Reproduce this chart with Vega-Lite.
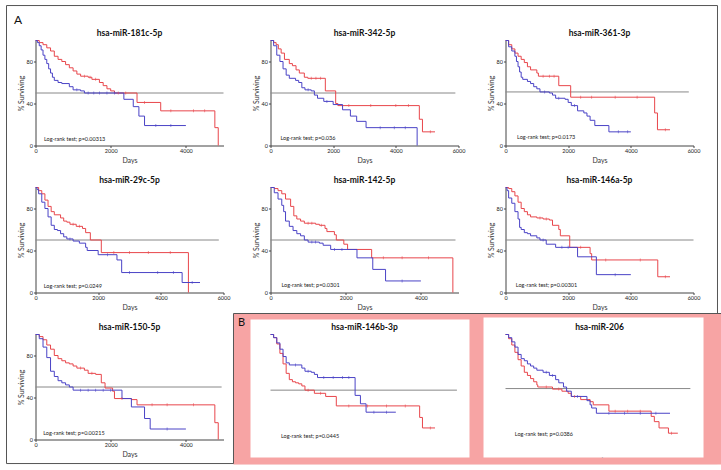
{
"$schema": "https://vega.github.io/schema/vega-lite/v6.json",
"autosize": {"type": "pad"},
"padding": {"left": 5.5, "top": 4.5, "right": 0, "bottom": 0},
"background": "white",
"datasets": {
"km": [
{"panel":"p1","group":"High","day":0,"surv":100},{"panel":"p1","group":"High","day":100,"surv":98},{"panel":"p1","group":"High","day":200,"surv":96},{"panel":"p1","group":"High","day":300,"surv":93},{"panel":"p1","group":"High","day":400,"surv":90},{"panel":"p1","group":"High","day":500,"surv":85},{"panel":"p1","group":"High","day":600,"surv":82},{"panel":"p1","group":"High","day":700,"surv":80},{"panel":"p1","group":"High","day":800,"surv":77},{"panel":"p1","group":"High","day":900,"surv":74},{"panel":"p1","group":"High","day":1000,"surv":71},{"panel":"p1","group":"High","day":1100,"surv":68},{"panel":"p1","group":"High","day":1200,"surv":66},{"panel":"p1","group":"High","day":1400,"surv":65},{"panel":"p1","group":"High","day":1500,"surv":63},{"panel":"p1","group":"High","day":1700,"surv":60},{"panel":"p1","group":"High","day":1800,"surv":57},{"panel":"p1","group":"High","day":1900,"surv":54},{"panel":"p1","group":"High","day":2000,"surv":52},{"panel":"p1","group":"High","day":2100,"surv":50},{"panel":"p1","group":"High","day":2700,"surv":41},{"panel":"p1","group":"High","day":3330,"surv":33},{"panel":"p1","group":"High","day":4770,"surv":17},{"panel":"p1","group":"High","day":4860,"surv":0},
{"panel":"p1","group":"Low","day":0,"surv":100},{"panel":"p1","group":"Low","day":50,"surv":98},{"panel":"p1","group":"Low","day":100,"surv":95},{"panel":"p1","group":"Low","day":150,"surv":91},{"panel":"p1","group":"Low","day":200,"surv":86},{"panel":"p1","group":"Low","day":250,"surv":82},{"panel":"p1","group":"Low","day":300,"surv":78},{"panel":"p1","group":"Low","day":350,"surv":73},{"panel":"p1","group":"Low","day":400,"surv":69},{"panel":"p1","group":"Low","day":450,"surv":65},{"panel":"p1","group":"Low","day":500,"surv":62},{"panel":"p1","group":"Low","day":600,"surv":60},{"panel":"p1","group":"Low","day":700,"surv":59},{"panel":"p1","group":"Low","day":900,"surv":56},{"panel":"p1","group":"Low","day":1000,"surv":53},{"panel":"p1","group":"Low","day":1200,"surv":52},{"panel":"p1","group":"Low","day":1300,"surv":50},{"panel":"p1","group":"Low","day":2350,"surv":44},{"panel":"p1","group":"Low","day":2600,"surv":37},{"panel":"p1","group":"Low","day":2750,"surv":28},{"panel":"p1","group":"Low","day":2900,"surv":19},{"panel":"p1","group":"Low","day":4000,"surv":19},
{"panel":"p2","group":"High","day":0,"surv":100},{"panel":"p2","group":"High","day":100,"surv":98},{"panel":"p2","group":"High","day":180,"surv":96},{"panel":"p2","group":"High","day":250,"surv":92},{"panel":"p2","group":"High","day":340,"surv":88},{"panel":"p2","group":"High","day":445,"surv":82},{"panel":"p2","group":"High","day":600,"surv":78},{"panel":"p2","group":"High","day":700,"surv":76},{"panel":"p2","group":"High","day":815,"surv":72},{"panel":"p2","group":"High","day":920,"surv":69},{"panel":"p2","group":"High","day":1080,"surv":65},{"panel":"p2","group":"High","day":1190,"surv":64},{"panel":"p2","group":"High","day":1750,"surv":52},{"panel":"p2","group":"High","day":2080,"surv":40},{"panel":"p2","group":"High","day":2150,"surv":38},{"panel":"p2","group":"High","day":4750,"surv":25},{"panel":"p2","group":"High","day":4850,"surv":13},{"panel":"p2","group":"High","day":5250,"surv":13},
{"panel":"p2","group":"Low","day":0,"surv":100},{"panel":"p2","group":"Low","day":100,"surv":95},{"panel":"p2","group":"Low","day":200,"surv":86},{"panel":"p2","group":"Low","day":300,"surv":80},{"panel":"p2","group":"Low","day":400,"surv":73},{"panel":"p2","group":"Low","day":500,"surv":67},{"panel":"p2","group":"Low","day":600,"surv":64},{"panel":"p2","group":"Low","day":800,"surv":62},{"panel":"p2","group":"Low","day":900,"surv":60},{"panel":"p2","group":"Low","day":1000,"surv":55},{"panel":"p2","group":"Low","day":1100,"surv":53},{"panel":"p2","group":"Low","day":1300,"surv":52},{"panel":"p2","group":"Low","day":1400,"surv":48},{"panel":"p2","group":"Low","day":1500,"surv":45},{"panel":"p2","group":"Low","day":1700,"surv":42},{"panel":"p2","group":"Low","day":2000,"surv":39},{"panel":"p2","group":"Low","day":2300,"surv":34},{"panel":"p2","group":"Low","day":2550,"surv":28},{"panel":"p2","group":"Low","day":2750,"surv":23},{"panel":"p2","group":"Low","day":3050,"surv":17},{"panel":"p2","group":"Low","day":4680,"surv":0},
{"panel":"p3","group":"High","day":0,"surv":100},{"panel":"p3","group":"High","day":100,"surv":96},{"panel":"p3","group":"High","day":200,"surv":92},{"panel":"p3","group":"High","day":300,"surv":88},{"panel":"p3","group":"High","day":400,"surv":85},{"panel":"p3","group":"High","day":500,"surv":82},{"panel":"p3","group":"High","day":600,"surv":79},{"panel":"p3","group":"High","day":700,"surv":75},{"panel":"p3","group":"High","day":800,"surv":72},{"panel":"p3","group":"High","day":1000,"surv":69},{"panel":"p3","group":"High","day":1050,"surv":66},{"panel":"p3","group":"High","day":1700,"surv":57},{"panel":"p3","group":"High","day":2080,"surv":46},{"panel":"p3","group":"High","day":4760,"surv":31},{"panel":"p3","group":"High","day":4850,"surv":15},{"panel":"p3","group":"High","day":5250,"surv":15},
{"panel":"p3","group":"Low","day":0,"surv":100},{"panel":"p3","group":"Low","day":100,"surv":94},{"panel":"p3","group":"Low","day":200,"surv":90},{"panel":"p3","group":"Low","day":300,"surv":85},{"panel":"p3","group":"Low","day":350,"surv":80},{"panel":"p3","group":"Low","day":400,"surv":75},{"panel":"p3","group":"Low","day":450,"surv":70},{"panel":"p3","group":"Low","day":500,"surv":65},{"panel":"p3","group":"Low","day":550,"surv":63},{"panel":"p3","group":"Low","day":700,"surv":61},{"panel":"p3","group":"Low","day":800,"surv":59},{"panel":"p3","group":"Low","day":900,"surv":56},{"panel":"p3","group":"Low","day":1000,"surv":54},{"panel":"p3","group":"Low","day":1100,"surv":51},{"panel":"p3","group":"Low","day":1400,"surv":50},{"panel":"p3","group":"Low","day":1500,"surv":48},{"panel":"p3","group":"Low","day":1600,"surv":45},{"panel":"p3","group":"Low","day":1900,"surv":44},{"panel":"p3","group":"Low","day":2000,"surv":41},{"panel":"p3","group":"Low","day":2100,"surv":38},{"panel":"p3","group":"Low","day":2300,"surv":33},{"panel":"p3","group":"Low","day":2500,"surv":31},{"panel":"p3","group":"Low","day":2600,"surv":28},{"panel":"p3","group":"Low","day":2700,"surv":24},{"panel":"p3","group":"Low","day":2850,"surv":19},{"panel":"p3","group":"Low","day":3300,"surv":13},{"panel":"p3","group":"Low","day":4000,"surv":13},
{"panel":"p4","group":"High","day":0,"surv":100},{"panel":"p4","group":"High","day":100,"surv":97},{"panel":"p4","group":"High","day":200,"surv":94},{"panel":"p4","group":"High","day":300,"surv":88},{"panel":"p4","group":"High","day":400,"surv":82},{"panel":"p4","group":"High","day":500,"surv":77},{"panel":"p4","group":"High","day":600,"surv":74},{"panel":"p4","group":"High","day":800,"surv":71},{"panel":"p4","group":"High","day":900,"surv":68},{"panel":"p4","group":"High","day":1000,"surv":67},{"panel":"p4","group":"High","day":1100,"surv":65},{"panel":"p4","group":"High","day":1300,"surv":63},{"panel":"p4","group":"High","day":1500,"surv":61},{"panel":"p4","group":"High","day":1600,"surv":57},{"panel":"p4","group":"High","day":1750,"surv":50},{"panel":"p4","group":"High","day":2100,"surv":38},{"panel":"p4","group":"High","day":4880,"surv":0},
{"panel":"p4","group":"Low","day":0,"surv":100},{"panel":"p4","group":"Low","day":50,"surv":98},{"panel":"p4","group":"Low","day":100,"surv":94},{"panel":"p4","group":"Low","day":200,"surv":86},{"panel":"p4","group":"Low","day":300,"surv":80},{"panel":"p4","group":"Low","day":400,"surv":72},{"panel":"p4","group":"Low","day":500,"surv":64},{"panel":"p4","group":"Low","day":600,"surv":60},{"panel":"p4","group":"Low","day":700,"surv":59},{"panel":"p4","group":"Low","day":800,"surv":56},{"panel":"p4","group":"Low","day":900,"surv":53},{"panel":"p4","group":"Low","day":1000,"surv":51},{"panel":"p4","group":"Low","day":1200,"surv":49},{"panel":"p4","group":"Low","day":1400,"surv":47},{"panel":"p4","group":"Low","day":1600,"surv":43},{"panel":"p4","group":"Low","day":1650,"surv":40},{"panel":"p4","group":"Low","day":2000,"surv":36},{"panel":"p4","group":"Low","day":2600,"surv":31},{"panel":"p4","group":"Low","day":2750,"surv":19},{"panel":"p4","group":"Low","day":4680,"surv":9.5},{"panel":"p4","group":"Low","day":5250,"surv":9.5},
{"panel":"p5","group":"High","day":0,"surv":100},{"panel":"p5","group":"High","day":100,"surv":99},{"panel":"p5","group":"High","day":200,"surv":97},{"panel":"p5","group":"High","day":300,"surv":94},{"panel":"p5","group":"High","day":400,"surv":89},{"panel":"p5","group":"High","day":535,"surv":82},{"panel":"p5","group":"High","day":620,"surv":73},{"panel":"p5","group":"High","day":700,"surv":70},{"panel":"p5","group":"High","day":800,"surv":68},{"panel":"p5","group":"High","day":900,"surv":66},{"panel":"p5","group":"High","day":1200,"surv":65},{"panel":"p5","group":"High","day":1300,"surv":64},{"panel":"p5","group":"High","day":1450,"surv":61},{"panel":"p5","group":"High","day":1500,"surv":58},{"panel":"p5","group":"High","day":1700,"surv":55},{"panel":"p5","group":"High","day":1750,"surv":50},{"panel":"p5","group":"High","day":1950,"surv":46},{"panel":"p5","group":"High","day":2050,"surv":41},{"panel":"p5","group":"High","day":2690,"surv":33},{"panel":"p5","group":"High","day":4850,"surv":0},
{"panel":"p5","group":"Low","day":0,"surv":100},{"panel":"p5","group":"Low","day":100,"surv":95},{"panel":"p5","group":"Low","day":200,"surv":89},{"panel":"p5","group":"Low","day":300,"surv":83},{"panel":"p5","group":"Low","day":350,"surv":77},{"panel":"p5","group":"Low","day":400,"surv":68},{"panel":"p5","group":"Low","day":500,"surv":63},{"panel":"p5","group":"Low","day":600,"surv":59},{"panel":"p5","group":"Low","day":700,"surv":56},{"panel":"p5","group":"Low","day":800,"surv":54},{"panel":"p5","group":"Low","day":900,"surv":50},{"panel":"p5","group":"Low","day":1000,"surv":48},{"panel":"p5","group":"Low","day":1300,"surv":47},{"panel":"p5","group":"Low","day":1400,"surv":45},{"panel":"p5","group":"Low","day":1600,"surv":41},{"panel":"p5","group":"Low","day":2300,"surv":33},{"panel":"p5","group":"Low","day":2720,"surv":22},{"panel":"p5","group":"Low","day":3060,"surv":11},{"panel":"p5","group":"Low","day":4000,"surv":11},
{"panel":"p6","group":"High","day":0,"surv":100},{"panel":"p6","group":"High","day":100,"surv":99},{"panel":"p6","group":"High","day":200,"surv":96},{"panel":"p6","group":"High","day":300,"surv":92},{"panel":"p6","group":"High","day":400,"surv":86},{"panel":"p6","group":"High","day":500,"surv":80},{"panel":"p6","group":"High","day":600,"surv":77},{"panel":"p6","group":"High","day":700,"surv":74},{"panel":"p6","group":"High","day":800,"surv":72},{"panel":"p6","group":"High","day":1000,"surv":71},{"panel":"p6","group":"High","day":1200,"surv":70},{"panel":"p6","group":"High","day":1400,"surv":69},{"panel":"p6","group":"High","day":1500,"surv":64},{"panel":"p6","group":"High","day":1700,"surv":60},{"panel":"p6","group":"High","day":1750,"surv":54},{"panel":"p6","group":"High","day":2050,"surv":43},{"panel":"p6","group":"High","day":2700,"surv":37},{"panel":"p6","group":"High","day":2750,"surv":31},{"panel":"p6","group":"High","day":4860,"surv":15},{"panel":"p6","group":"High","day":5250,"surv":15},
{"panel":"p6","group":"Low","day":0,"surv":100},{"panel":"p6","group":"Low","day":50,"surv":97},{"panel":"p6","group":"Low","day":100,"surv":90},{"panel":"p6","group":"Low","day":200,"surv":85},{"panel":"p6","group":"Low","day":300,"surv":77},{"panel":"p6","group":"Low","day":400,"surv":70},{"panel":"p6","group":"Low","day":450,"surv":62},{"panel":"p6","group":"Low","day":500,"surv":60},{"panel":"p6","group":"Low","day":600,"surv":57},{"panel":"p6","group":"Low","day":700,"surv":56},{"panel":"p6","group":"Low","day":800,"surv":54},{"panel":"p6","group":"Low","day":1000,"surv":52},{"panel":"p6","group":"Low","day":1100,"surv":50},{"panel":"p6","group":"Low","day":1300,"surv":46},{"panel":"p6","group":"Low","day":1600,"surv":43},{"panel":"p6","group":"Low","day":2300,"surv":34},{"panel":"p6","group":"Low","day":2900,"surv":17},{"panel":"p6","group":"Low","day":4000,"surv":17},
{"panel":"p7","group":"High","day":0,"surv":100},{"panel":"p7","group":"High","day":100,"surv":98},{"panel":"p7","group":"High","day":200,"surv":95},{"panel":"p7","group":"High","day":300,"surv":90},{"panel":"p7","group":"High","day":400,"surv":86},{"panel":"p7","group":"High","day":500,"surv":80},{"panel":"p7","group":"High","day":600,"surv":77},{"panel":"p7","group":"High","day":700,"surv":75},{"panel":"p7","group":"High","day":800,"surv":73},{"panel":"p7","group":"High","day":900,"surv":72},{"panel":"p7","group":"High","day":1000,"surv":70},{"panel":"p7","group":"High","day":1100,"surv":68},{"panel":"p7","group":"High","day":1300,"surv":66},{"panel":"p7","group":"High","day":1400,"surv":63},{"panel":"p7","group":"High","day":1600,"surv":62},{"panel":"p7","group":"High","day":1750,"surv":54},{"panel":"p7","group":"High","day":1850,"surv":49},{"panel":"p7","group":"High","day":2050,"surv":46},{"panel":"p7","group":"High","day":2100,"surv":39},{"panel":"p7","group":"High","day":2550,"surv":38},{"panel":"p7","group":"High","day":2700,"surv":33},{"panel":"p7","group":"High","day":4770,"surv":16},{"panel":"p7","group":"High","day":4860,"surv":0},
{"panel":"p7","group":"Low","day":0,"surv":100},{"panel":"p7","group":"Low","day":100,"surv":96},{"panel":"p7","group":"Low","day":200,"surv":88},{"panel":"p7","group":"Low","day":300,"surv":78},{"panel":"p7","group":"Low","day":400,"surv":65},{"panel":"p7","group":"Low","day":500,"surv":60},{"panel":"p7","group":"Low","day":600,"surv":56},{"panel":"p7","group":"Low","day":700,"surv":54},{"panel":"p7","group":"Low","day":800,"surv":52},{"panel":"p7","group":"Low","day":900,"surv":50},{"panel":"p7","group":"Low","day":1000,"surv":47},{"panel":"p7","group":"Low","day":2300,"surv":39},{"panel":"p7","group":"Low","day":2550,"surv":31},{"panel":"p7","group":"Low","day":2900,"surv":20},{"panel":"p7","group":"Low","day":3050,"surv":10},{"panel":"p7","group":"Low","day":4000,"surv":10},
{"panel":"p8","group":"High","day":0,"surv":100},{"panel":"p8","group":"High","day":100,"surv":97},{"panel":"p8","group":"High","day":200,"surv":91},{"panel":"p8","group":"High","day":300,"surv":82},{"panel":"p8","group":"High","day":400,"surv":72},{"panel":"p8","group":"High","day":500,"surv":63},{"panel":"p8","group":"High","day":600,"surv":57},{"panel":"p8","group":"High","day":700,"surv":55},{"panel":"p8","group":"High","day":800,"surv":54},{"panel":"p8","group":"High","day":900,"surv":53},{"panel":"p8","group":"High","day":1000,"surv":51},{"panel":"p8","group":"High","day":1100,"surv":47},{"panel":"p8","group":"High","day":1400,"surv":44},{"panel":"p8","group":"High","day":1760,"surv":41},{"panel":"p8","group":"High","day":2100,"surv":32},{"panel":"p8","group":"High","day":4760,"surv":21},{"panel":"p8","group":"High","day":4850,"surv":11},{"panel":"p8","group":"High","day":5250,"surv":11},
{"panel":"p8","group":"Low","day":0,"surv":100},{"panel":"p8","group":"Low","day":100,"surv":97},{"panel":"p8","group":"Low","day":200,"surv":92},{"panel":"p8","group":"Low","day":300,"surv":86},{"panel":"p8","group":"Low","day":400,"surv":79},{"panel":"p8","group":"Low","day":500,"surv":73},{"panel":"p8","group":"Low","day":600,"surv":71},{"panel":"p8","group":"Low","day":1000,"surv":68},{"panel":"p8","group":"Low","day":1100,"surv":65},{"panel":"p8","group":"Low","day":1300,"surv":64},{"panel":"p8","group":"Low","day":1400,"surv":62},{"panel":"p8","group":"Low","day":1500,"surv":59},{"panel":"p8","group":"Low","day":2700,"surv":42},{"panel":"p8","group":"Low","day":2870,"surv":34},{"panel":"p8","group":"Low","day":3050,"surv":26},{"panel":"p8","group":"Low","day":4000,"surv":26},
{"panel":"p9","group":"High","day":0,"surv":100},{"panel":"p9","group":"High","day":100,"surv":96},{"panel":"p9","group":"High","day":200,"surv":90},{"panel":"p9","group":"High","day":300,"surv":83},{"panel":"p9","group":"High","day":400,"surv":76},{"panel":"p9","group":"High","day":500,"surv":70},{"panel":"p9","group":"High","day":600,"surv":64},{"panel":"p9","group":"High","day":700,"surv":61},{"panel":"p9","group":"High","day":800,"surv":58},{"panel":"p9","group":"High","day":900,"surv":55},{"panel":"p9","group":"High","day":1000,"surv":52},{"panel":"p9","group":"High","day":1030,"surv":50},{"panel":"p9","group":"High","day":1500,"surv":48},{"panel":"p9","group":"High","day":1800,"surv":46},{"panel":"p9","group":"High","day":2000,"surv":44},{"panel":"p9","group":"High","day":2100,"surv":41},{"panel":"p9","group":"High","day":2400,"surv":38},{"panel":"p9","group":"High","day":2700,"surv":36},{"panel":"p9","group":"High","day":2800,"surv":33},{"panel":"p9","group":"High","day":3300,"surv":27},{"panel":"p9","group":"High","day":4650,"surv":22},{"panel":"p9","group":"High","day":4750,"surv":17},{"panel":"p9","group":"High","day":4900,"surv":11},{"panel":"p9","group":"High","day":5200,"surv":6},{"panel":"p9","group":"High","day":5500,"surv":6},
{"panel":"p9","group":"Low","day":0,"surv":100},{"panel":"p9","group":"Low","day":100,"surv":97},{"panel":"p9","group":"Low","day":200,"surv":93},{"panel":"p9","group":"Low","day":300,"surv":88},{"panel":"p9","group":"Low","day":400,"surv":81},{"panel":"p9","group":"Low","day":500,"surv":77},{"panel":"p9","group":"Low","day":600,"surv":75},{"panel":"p9","group":"Low","day":700,"surv":72},{"panel":"p9","group":"Low","day":800,"surv":70},{"panel":"p9","group":"Low","day":900,"surv":68},{"panel":"p9","group":"Low","day":1000,"surv":66},{"panel":"p9","group":"Low","day":1200,"surv":64},{"panel":"p9","group":"Low","day":1400,"surv":61},{"panel":"p9","group":"Low","day":1600,"surv":57},{"panel":"p9","group":"Low","day":1700,"surv":54},{"panel":"p9","group":"Low","day":1850,"surv":50},{"panel":"p9","group":"Low","day":1950,"surv":46},{"panel":"p9","group":"Low","day":2100,"surv":41},{"panel":"p9","group":"Low","day":2600,"surv":37},{"panel":"p9","group":"Low","day":2700,"surv":33},{"panel":"p9","group":"Low","day":2750,"surv":30},{"panel":"p9","group":"Low","day":2900,"surv":25},{"panel":"p9","group":"Low","day":5250,"surv":25}
],
"cens": [
{"panel":"p1","group":"High","day":1300,"surv":66},{"panel":"p1","group":"High","day":1450,"surv":65},{"panel":"p1","group":"High","day":1600,"surv":63},{"panel":"p1","group":"High","day":2200,"surv":50},{"panel":"p1","group":"High","day":2400,"surv":50},{"panel":"p1","group":"High","day":2900,"surv":41},{"panel":"p1","group":"High","day":3600,"surv":33},{"panel":"p1","group":"High","day":4200,"surv":33},{"panel":"p1","group":"High","day":4500,"surv":33},
{"panel":"p1","group":"Low","day":1100,"surv":53},{"panel":"p1","group":"Low","day":1400,"surv":50},{"panel":"p1","group":"Low","day":1550,"surv":50},{"panel":"p1","group":"Low","day":1700,"surv":50},{"panel":"p1","group":"Low","day":1900,"surv":50},{"panel":"p1","group":"Low","day":2100,"surv":50},{"panel":"p1","group":"Low","day":3200,"surv":19},{"panel":"p1","group":"Low","day":3600,"surv":19},
{"panel":"p2","group":"High","day":1300,"surv":64},{"panel":"p2","group":"High","day":1450,"surv":64},{"panel":"p2","group":"High","day":1600,"surv":64},{"panel":"p2","group":"High","day":2500,"surv":38},{"panel":"p2","group":"High","day":3200,"surv":38},{"panel":"p2","group":"High","day":4000,"surv":38},{"panel":"p2","group":"High","day":4400,"surv":38},{"panel":"p2","group":"High","day":5100,"surv":13},
{"panel":"p2","group":"Low","day":1200,"surv":53},{"panel":"p2","group":"Low","day":1800,"surv":42},{"panel":"p2","group":"Low","day":3500,"surv":17},{"panel":"p2","group":"Low","day":3950,"surv":17},{"panel":"p2","group":"Low","day":4300,"surv":17},
{"panel":"p3","group":"High","day":1200,"surv":66},{"panel":"p3","group":"High","day":1400,"surv":66},{"panel":"p3","group":"High","day":1550,"surv":66},{"panel":"p3","group":"High","day":2400,"surv":46},{"panel":"p3","group":"High","day":2750,"surv":46},{"panel":"p3","group":"High","day":3500,"surv":46},{"panel":"p3","group":"High","day":4200,"surv":46},{"panel":"p3","group":"High","day":5100,"surv":15},
{"panel":"p3","group":"Low","day":1250,"surv":51},{"panel":"p3","group":"Low","day":1700,"surv":45},{"panel":"p3","group":"Low","day":2200,"surv":38},{"panel":"p3","group":"Low","day":3600,"surv":13},{"panel":"p3","group":"Low","day":3900,"surv":13},
{"panel":"p4","group":"High","day":1200,"surv":65},{"panel":"p4","group":"High","day":1400,"surv":63},{"panel":"p4","group":"High","day":2500,"surv":38},{"panel":"p4","group":"High","day":3000,"surv":38},{"panel":"p4","group":"High","day":3600,"surv":38},{"panel":"p4","group":"High","day":4300,"surv":38},
{"panel":"p4","group":"Low","day":1100,"surv":51},{"panel":"p4","group":"Low","day":2300,"surv":36},{"panel":"p4","group":"Low","day":3000,"surv":19},{"panel":"p4","group":"Low","day":3900,"surv":19},{"panel":"p4","group":"Low","day":4400,"surv":19},{"panel":"p4","group":"Low","day":5000,"surv":9.5},
{"panel":"p5","group":"High","day":1000,"surv":66},{"panel":"p5","group":"High","day":1100,"surv":66},{"panel":"p5","group":"High","day":1350,"surv":64},{"panel":"p5","group":"High","day":3000,"surv":33},{"panel":"p5","group":"High","day":3500,"surv":33},{"panel":"p5","group":"High","day":4200,"surv":33},
{"panel":"p5","group":"Low","day":1100,"surv":48},{"panel":"p5","group":"Low","day":1200,"surv":48},{"panel":"p5","group":"Low","day":1700,"surv":41},{"panel":"p5","group":"Low","day":1900,"surv":41},{"panel":"p5","group":"Low","day":3500,"surv":11},
{"panel":"p6","group":"High","day":1100,"surv":71},{"panel":"p6","group":"High","day":1300,"surv":70},{"panel":"p6","group":"High","day":2400,"surv":43},{"panel":"p6","group":"High","day":3200,"surv":31},{"panel":"p6","group":"High","day":4300,"surv":31},{"panel":"p6","group":"High","day":5100,"surv":15},
{"panel":"p6","group":"Low","day":1200,"surv":50},{"panel":"p6","group":"Low","day":1800,"surv":43},{"panel":"p6","group":"Low","day":2000,"surv":43},{"panel":"p6","group":"Low","day":3500,"surv":17},
{"panel":"p7","group":"High","day":1200,"surv":68},{"panel":"p7","group":"High","day":1500,"surv":63},{"panel":"p7","group":"High","day":2300,"surv":39},{"panel":"p7","group":"High","day":3100,"surv":33},{"panel":"p7","group":"High","day":3500,"surv":33},{"panel":"p7","group":"High","day":4200,"surv":33},
{"panel":"p7","group":"Low","day":1200,"surv":47},{"panel":"p7","group":"Low","day":1400,"surv":47},{"panel":"p7","group":"Low","day":1600,"surv":47},{"panel":"p7","group":"Low","day":1800,"surv":47},{"panel":"p7","group":"Low","day":2000,"surv":47},{"panel":"p7","group":"Low","day":3500,"surv":10},
{"panel":"p8","group":"High","day":1200,"surv":47},{"panel":"p8","group":"High","day":1600,"surv":44},{"panel":"p8","group":"High","day":2500,"surv":32},{"panel":"p8","group":"High","day":3100,"surv":32},{"panel":"p8","group":"High","day":3700,"surv":32},{"panel":"p8","group":"High","day":4300,"surv":32},{"panel":"p8","group":"High","day":5100,"surv":11},
{"panel":"p8","group":"Low","day":800,"surv":71},{"panel":"p8","group":"Low","day":1200,"surv":65},{"panel":"p8","group":"Low","day":1700,"surv":59},{"panel":"p8","group":"Low","day":2000,"surv":59},{"panel":"p8","group":"Low","day":2300,"surv":59},{"panel":"p8","group":"Low","day":2500,"surv":59},{"panel":"p8","group":"Low","day":3300,"surv":26},{"panel":"p8","group":"Low","day":3700,"surv":26},
{"panel":"p9","group":"High","day":1300,"surv":50},{"panel":"p9","group":"High","day":1700,"surv":48},{"panel":"p9","group":"High","day":2200,"surv":41},{"panel":"p9","group":"High","day":3500,"surv":27},{"panel":"p9","group":"High","day":3900,"surv":27},{"panel":"p9","group":"High","day":4300,"surv":27},{"panel":"p9","group":"High","day":5300,"surv":6},
{"panel":"p9","group":"Low","day":1300,"surv":64},{"panel":"p9","group":"Low","day":1500,"surv":61},{"panel":"p9","group":"Low","day":2300,"surv":41},{"panel":"p9","group":"Low","day":3300,"surv":25},{"panel":"p9","group":"Low","day":3800,"surv":25},{"panel":"p9","group":"Low","day":4300,"surv":25},{"panel":"p9","group":"Low","day":4800,"surv":25}
]
},
"columns": 3,
"spacing": {"row": 42, "column": 47},
"bounds": "flush",
"resolve": {"scale": {"color": "independent"}, "legend": {"color": "independent"}},
"concat": [
{"width": 188, "height": 105, "layer": [
 {"data": {"values": [{}]}, "mark": {"type": "rect", "fillOpacity": 0, "stroke": "#555", "strokeWidth": 1, "clip": false}, "encoding": {"x": {"datum": -771, "title": "Days"}, "x2": {"datum": 18138}, "y": {"datum": 133.3, "title": "% Surviving"}, "y2": {"datum": -302.9}}},
 {"data": {"values": [{}]}, "mark": {"type": "text", "text": "A", "fontSize": 12, "align": "center", "baseline": "middle", "color": "#111"}, "encoding": {"x": {"datum": -465, "title": "Days"}, "y": {"datum": 120, "title": "% Surviving"}}},
 {"data": {"values": [{}]}, "mark": {"type": "text", "text": "hsa-miR-181c-5p", "fontSize": 8.5, "fontWeight": "bold", "align": "center", "baseline": "middle", "color": "#111"}, "encoding": {"x": {"datum": 2500, "title": "Days"}, "y": {"datum": 107, "title": "% Surviving"}}},
 {"data": {"values": [{}]}, "mark": {"type": "rule", "color": "#888", "strokeWidth": 1}, "encoding": {"x": {"datum": 0, "title": "Days"}, "x2": {"datum": 5000}, "y": {"datum": 50, "title": "% Surviving"}}},
 {"data": {"name": "km"}, "transform": [{"filter": "datum.panel === 'p1'"}], "mark": {"type": "line", "interpolate": "step-after", "strokeWidth": 1}, "encoding": {"x": {"field": "day", "type": "quantitative", "title": "Days", "scale": {"domain": [0, 5000], "nice": false}, "axis": {"values": [0, 1000, 2000, 3000, 4000, 5000], "format": "d", "labelOverlap": false}}, "y": {"field": "surv", "type": "quantitative", "title": "% Surviving", "scale": {"domain": [0, 100], "nice": false}, "axis": {"values": [0, 20, 40, 60, 80, 100], "labelOverlap": false}}, "color": {"field": "group", "type": "nominal", "title": "Expr.", "scale": {"domain": ["High", "Low"], "range": ["#e8464b", "#4a43c6"]}}}},
 {"data": {"name": "cens"}, "transform": [{"filter": "datum.panel === 'p1'"}], "mark": {"type": "tick", "orient": "vertical", "size": 3, "thickness": 0.8}, "encoding": {"x": {"field": "day", "type": "quantitative", "title": "Days"}, "y": {"field": "surv", "type": "quantitative", "title": "% Surviving"}, "color": {"field": "group", "type": "nominal", "legend": null, "scale": {"domain": ["High", "Low"], "range": ["#e8464b", "#4a43c6"]}}}},
 {"data": {"values": [{}]}, "mark": {"type": "text", "text": "Log-rank test; p=0.00313", "align": "left", "baseline": "middle", "fontSize": 5.5, "color": "#222"}, "encoding": {"x": {"datum": 224, "title": "Days"}, "y": {"datum": 6, "title": "% Surviving"}}}
]},
{"width": 188, "height": 105, "layer": [
 {"data": {"values": [{}]}, "mark": {"type": "text", "text": "hsa-miR-342-5p", "fontSize": 8.5, "fontWeight": "bold", "align": "center", "baseline": "middle", "color": "#111"}, "encoding": {"x": {"datum": 3000, "title": "Days"}, "y": {"datum": 107, "title": "% Surviving"}}},
 {"data": {"values": [{}]}, "mark": {"type": "rule", "color": "#888", "strokeWidth": 1}, "encoding": {"x": {"datum": 0, "title": "Days"}, "x2": {"datum": 5900}, "y": {"datum": 50, "title": "% Surviving"}}},
 {"data": {"name": "km"}, "transform": [{"filter": "datum.panel === 'p2'"}], "mark": {"type": "line", "interpolate": "step-after", "strokeWidth": 1}, "encoding": {"x": {"field": "day", "type": "quantitative", "title": "Days", "scale": {"domain": [0, 6000], "nice": false}, "axis": {"values": [0, 1000, 2000, 3000, 4000, 5000, 6000], "format": "d", "labelOverlap": false}}, "y": {"field": "surv", "type": "quantitative", "title": "% Surviving", "scale": {"domain": [0, 100], "nice": false}, "axis": {"values": [0, 20, 40, 60, 80, 100], "labelOverlap": false}}, "color": {"field": "group", "type": "nominal", "title": "Expr.", "scale": {"domain": ["High", "Low"], "range": ["#e8464b", "#4a43c6"]}}}},
 {"data": {"name": "cens"}, "transform": [{"filter": "datum.panel === 'p2'"}], "mark": {"type": "tick", "orient": "vertical", "size": 3, "thickness": 0.8}, "encoding": {"x": {"field": "day", "type": "quantitative", "title": "Days"}, "y": {"field": "surv", "type": "quantitative", "title": "% Surviving"}, "color": {"field": "group", "type": "nominal", "legend": null, "scale": {"domain": ["High", "Low"], "range": ["#e8464b", "#4a43c6"]}}}},
 {"data": {"values": [{}]}, "mark": {"type": "text", "text": "Log-rank test; p=0.036", "align": "left", "baseline": "middle", "fontSize": 5.5, "color": "#222"}, "encoding": {"x": {"datum": 317, "title": "Days"}, "y": {"datum": 6.7, "title": "% Surviving"}}}
]},
{"width": 188, "height": 105, "layer": [
 {"data": {"values": [{}]}, "mark": {"type": "text", "text": "hsa-miR-361-3p", "fontSize": 8.5, "fontWeight": "bold", "align": "center", "baseline": "middle", "color": "#111"}, "encoding": {"x": {"datum": 3000, "title": "Days"}, "y": {"datum": 107, "title": "% Surviving"}}},
 {"data": {"values": [{}]}, "mark": {"type": "rule", "color": "#888", "strokeWidth": 1}, "encoding": {"x": {"datum": 0, "title": "Days"}, "x2": {"datum": 5850}, "y": {"datum": 51, "title": "% Surviving"}}},
 {"data": {"name": "km"}, "transform": [{"filter": "datum.panel === 'p3'"}], "mark": {"type": "line", "interpolate": "step-after", "strokeWidth": 1}, "encoding": {"x": {"field": "day", "type": "quantitative", "title": "Days", "scale": {"domain": [0, 6000], "nice": false}, "axis": {"values": [0, 1000, 2000, 3000, 4000, 5000, 6000], "format": "d", "labelOverlap": false}}, "y": {"field": "surv", "type": "quantitative", "title": "% Surviving", "scale": {"domain": [0, 100], "nice": false}, "axis": {"values": [0, 20, 40, 60, 80, 100], "labelOverlap": false}}, "color": {"field": "group", "type": "nominal", "title": "Expr.", "scale": {"domain": ["High", "Low"], "range": ["#e8464b", "#4a43c6"]}}}},
 {"data": {"name": "cens"}, "transform": [{"filter": "datum.panel === 'p3'"}], "mark": {"type": "tick", "orient": "vertical", "size": 3, "thickness": 0.8}, "encoding": {"x": {"field": "day", "type": "quantitative", "title": "Days"}, "y": {"field": "surv", "type": "quantitative", "title": "% Surviving"}, "color": {"field": "group", "type": "nominal", "legend": null, "scale": {"domain": ["High", "Low"], "range": ["#e8464b", "#4a43c6"]}}}},
 {"data": {"values": [{}]}, "mark": {"type": "text", "text": "Log-rank test; p=0.0173", "align": "left", "baseline": "middle", "fontSize": 5.5, "color": "#222"}, "encoding": {"x": {"datum": 370, "title": "Days"}, "y": {"datum": 7.9, "title": "% Surviving"}}}
]},
{"width": 188, "height": 105, "layer": [
 {"data": {"values": [{}]}, "mark": {"type": "text", "text": "hsa-miR-29c-5p", "fontSize": 8.5, "fontWeight": "bold", "align": "center", "baseline": "middle", "color": "#111"}, "encoding": {"x": {"datum": 3000, "title": "Days"}, "y": {"datum": 107, "title": "% Surviving"}}},
 {"data": {"values": [{}]}, "mark": {"type": "rule", "color": "#888", "strokeWidth": 1}, "encoding": {"x": {"datum": 0, "title": "Days"}, "x2": {"datum": 5850}, "y": {"datum": 50, "title": "% Surviving"}}},
 {"data": {"name": "km"}, "transform": [{"filter": "datum.panel === 'p4'"}], "mark": {"type": "line", "interpolate": "step-after", "strokeWidth": 1}, "encoding": {"x": {"field": "day", "type": "quantitative", "title": "Days", "scale": {"domain": [0, 6000], "nice": false}, "axis": {"values": [0, 1000, 2000, 3000, 4000, 5000, 6000], "format": "d", "labelOverlap": false}}, "y": {"field": "surv", "type": "quantitative", "title": "% Surviving", "scale": {"domain": [0, 100], "nice": false}, "axis": {"values": [0, 20, 40, 60, 80, 100], "labelOverlap": false}}, "color": {"field": "group", "type": "nominal", "title": "Expr.", "scale": {"domain": ["High", "Low"], "range": ["#e8464b", "#4a43c6"]}}}},
 {"data": {"name": "cens"}, "transform": [{"filter": "datum.panel === 'p4'"}], "mark": {"type": "tick", "orient": "vertical", "size": 3, "thickness": 0.8}, "encoding": {"x": {"field": "day", "type": "quantitative", "title": "Days"}, "y": {"field": "surv", "type": "quantitative", "title": "% Surviving"}, "color": {"field": "group", "type": "nominal", "legend": null, "scale": {"domain": ["High", "Low"], "range": ["#e8464b", "#4a43c6"]}}}},
 {"data": {"values": [{}]}, "mark": {"type": "text", "text": "Log-rank test; p=0.0249", "align": "left", "baseline": "middle", "fontSize": 5.5, "color": "#222"}, "encoding": {"x": {"datum": 263, "title": "Days"}, "y": {"datum": 6.6, "title": "% Surviving"}}}
]},
{"width": 188, "height": 105, "layer": [
 {"data": {"values": [{}]}, "mark": {"type": "text", "text": "hsa-miR-142-5p", "fontSize": 8.5, "fontWeight": "bold", "align": "center", "baseline": "middle", "color": "#111"}, "encoding": {"x": {"datum": 2500, "title": "Days"}, "y": {"datum": 107, "title": "% Surviving"}}},
 {"data": {"values": [{}]}, "mark": {"type": "rule", "color": "#888", "strokeWidth": 1}, "encoding": {"x": {"datum": 0, "title": "Days"}, "x2": {"datum": 4920}, "y": {"datum": 50, "title": "% Surviving"}}},
 {"data": {"name": "km"}, "transform": [{"filter": "datum.panel === 'p5'"}], "mark": {"type": "line", "interpolate": "step-after", "strokeWidth": 1}, "encoding": {"x": {"field": "day", "type": "quantitative", "title": "Days", "scale": {"domain": [0, 5000], "nice": false}, "axis": {"values": [0, 1000, 2000, 3000, 4000, 5000], "format": "d", "labelOverlap": false}}, "y": {"field": "surv", "type": "quantitative", "title": "% Surviving", "scale": {"domain": [0, 100], "nice": false}, "axis": {"values": [0, 20, 40, 60, 80, 100], "labelOverlap": false}}, "color": {"field": "group", "type": "nominal", "title": "Expr.", "scale": {"domain": ["High", "Low"], "range": ["#e8464b", "#4a43c6"]}}}},
 {"data": {"name": "cens"}, "transform": [{"filter": "datum.panel === 'p5'"}], "mark": {"type": "tick", "orient": "vertical", "size": 3, "thickness": 0.8}, "encoding": {"x": {"field": "day", "type": "quantitative", "title": "Days"}, "y": {"field": "surv", "type": "quantitative", "title": "% Surviving"}, "color": {"field": "group", "type": "nominal", "legend": null, "scale": {"domain": ["High", "Low"], "range": ["#e8464b", "#4a43c6"]}}}},
 {"data": {"values": [{}]}, "mark": {"type": "text", "text": "Log-rank test; p=0.0301", "align": "left", "baseline": "middle", "fontSize": 5.5, "color": "#222"}, "encoding": {"x": {"datum": 290, "title": "Days"}, "y": {"datum": 7, "title": "% Surviving"}}}
]},
{"width": 188, "height": 105, "layer": [
 {"data": {"values": [{}]}, "mark": {"type": "text", "text": "hsa-miR-146a-5p", "fontSize": 8.5, "fontWeight": "bold", "align": "center", "baseline": "middle", "color": "#111"}, "encoding": {"x": {"datum": 3000, "title": "Days"}, "y": {"datum": 107, "title": "% Surviving"}}},
 {"data": {"values": [{}]}, "mark": {"type": "rule", "color": "#888", "strokeWidth": 1}, "encoding": {"x": {"datum": 0, "title": "Days"}, "x2": {"datum": 6000}, "y": {"datum": 50, "title": "% Surviving"}}},
 {"data": {"name": "km"}, "transform": [{"filter": "datum.panel === 'p6'"}], "mark": {"type": "line", "interpolate": "step-after", "strokeWidth": 1}, "encoding": {"x": {"field": "day", "type": "quantitative", "title": "Days", "scale": {"domain": [0, 6000], "nice": false}, "axis": {"values": [0, 1000, 2000, 3000, 4000, 5000, 6000], "format": "d", "labelOverlap": false}}, "y": {"field": "surv", "type": "quantitative", "title": "% Surviving", "scale": {"domain": [0, 100], "nice": false}, "axis": {"values": [0, 20, 40, 60, 80, 100], "labelOverlap": false}}, "color": {"field": "group", "type": "nominal", "title": "Expr.", "scale": {"domain": ["High", "Low"], "range": ["#e8464b", "#4a43c6"]}}}},
 {"data": {"name": "cens"}, "transform": [{"filter": "datum.panel === 'p6'"}], "mark": {"type": "tick", "orient": "vertical", "size": 3, "thickness": 0.8}, "encoding": {"x": {"field": "day", "type": "quantitative", "title": "Days"}, "y": {"field": "surv", "type": "quantitative", "title": "% Surviving"}, "color": {"field": "group", "type": "nominal", "legend": null, "scale": {"domain": ["High", "Low"], "range": ["#e8464b", "#4a43c6"]}}}},
 {"data": {"values": [{}]}, "mark": {"type": "text", "text": "Log-rank test; p=0.00301", "align": "left", "baseline": "middle", "fontSize": 5.5, "color": "#222"}, "encoding": {"x": {"datum": 330, "title": "Days"}, "y": {"datum": 7, "title": "% Surviving"}}}
]},
{"width": 188, "height": 105, "layer": [
 {"data": {"values": [{}]}, "mark": {"type": "text", "text": "hsa-miR-150-5p", "fontSize": 8.5, "fontWeight": "bold", "align": "center", "baseline": "middle", "color": "#111"}, "encoding": {"x": {"datum": 2500, "title": "Days"}, "y": {"datum": 107, "title": "% Surviving"}}},
 {"data": {"values": [{}]}, "mark": {"type": "rule", "color": "#888", "strokeWidth": 1}, "encoding": {"x": {"datum": 0, "title": "Days"}, "x2": {"datum": 4950}, "y": {"datum": 50, "title": "% Surviving"}}},
 {"data": {"name": "km"}, "transform": [{"filter": "datum.panel === 'p7'"}], "mark": {"type": "line", "interpolate": "step-after", "strokeWidth": 1}, "encoding": {"x": {"field": "day", "type": "quantitative", "title": "Days", "scale": {"domain": [0, 5000], "nice": false}, "axis": {"values": [0, 1000, 2000, 3000, 4000, 5000], "format": "d", "labelOverlap": false}}, "y": {"field": "surv", "type": "quantitative", "title": "% Surviving", "scale": {"domain": [0, 100], "nice": false}, "axis": {"values": [0, 20, 40, 60, 80, 100], "labelOverlap": false}}, "color": {"field": "group", "type": "nominal", "title": "Expr.", "scale": {"domain": ["High", "Low"], "range": ["#e8464b", "#4a43c6"]}}}},
 {"data": {"name": "cens"}, "transform": [{"filter": "datum.panel === 'p7'"}], "mark": {"type": "tick", "orient": "vertical", "size": 3, "thickness": 0.8}, "encoding": {"x": {"field": "day", "type": "quantitative", "title": "Days"}, "y": {"field": "surv", "type": "quantitative", "title": "% Surviving"}, "color": {"field": "group", "type": "nominal", "legend": null, "scale": {"domain": ["High", "Low"], "range": ["#e8464b", "#4a43c6"]}}}},
 {"data": {"values": [{}]}, "mark": {"type": "text", "text": "Log-rank test; p=0.00215", "align": "left", "baseline": "middle", "fontSize": 5.5, "color": "#222"}, "encoding": {"x": {"datum": 205, "title": "Days"}, "y": {"datum": 6, "title": "% Surviving"}}}
]},
{"width": 188, "height": 105, "layer": [
 {"data": {"values": [{}]}, "mark": {"type": "rect", "fill": "#f7a4a4", "clip": false}, "encoding": {"x": {"datum": -1181, "title": "Days"}, "x2": {"datum": 14395}, "y": {"datum": 120, "title": "% Surviving"}, "y2": {"datum": -23.8}}},
 {"data": {"values": [{}]}, "mark": {"type": "rule", "color": "#555", "strokeWidth": 1, "clip": false}, "encoding": {"x": {"datum": -1181, "title": "Days"}, "x2": {"datum": 14395}, "y": {"datum": 120, "title": "% Surviving"}}},
 {"data": {"values": [{}]}, "mark": {"type": "rule", "color": "#555", "strokeWidth": 1, "clip": false}, "encoding": {"x": {"datum": -1181, "title": "Days"}, "y": {"datum": 120, "title": "% Surviving"}, "y2": {"datum": -22.9}}},
 {"data": {"values": [{}]}, "mark": {"type": "rect", "fill": "white", "clip": false}, "encoding": {"x": {"datum": -638, "title": "Days"}, "x2": {"datum": 6351}, "y": {"datum": 114.3, "title": "% Surviving"}, "y2": {"datum": -17.1}}},
 {"data": {"values": [{}]}, "mark": {"type": "text", "text": "B", "fontSize": 11, "align": "center", "baseline": "middle", "color": "#111"}, "encoding": {"x": {"datum": -926, "title": "Days"}, "y": {"datum": 110.5, "title": "% Surviving"}}},
 {"data": {"values": [{}]}, "mark": {"type": "text", "text": "hsa-miR-146b-3p", "fontSize": 8.5, "fontWeight": "bold", "align": "center", "baseline": "middle", "color": "#111"}, "encoding": {"x": {"datum": 3000, "title": "Days"}, "y": {"datum": 107, "title": "% Surviving"}}},
 {"data": {"values": [{}]}, "mark": {"type": "rule", "color": "#888", "strokeWidth": 1}, "encoding": {"x": {"datum": 0, "title": "Days"}, "x2": {"datum": 5950}, "y": {"datum": 47, "title": "% Surviving"}}},
 {"data": {"name": "km"}, "transform": [{"filter": "datum.panel === 'p8'"}], "mark": {"type": "line", "interpolate": "step-after", "strokeWidth": 1}, "encoding": {"x": {"field": "day", "type": "quantitative", "title": "Days", "scale": {"domain": [0, 6000], "nice": false}, "axis": {"values": [0, 1000, 2000, 3000, 4000, 5000, 6000], "format": "d", "labelOverlap": false}}, "y": {"field": "surv", "type": "quantitative", "title": "% Surviving", "scale": {"domain": [0, 100], "nice": false}, "axis": {"values": [0, 20, 40, 60, 80, 100], "labelOverlap": false}}, "color": {"field": "group", "type": "nominal", "title": "Expr.", "scale": {"domain": ["High", "Low"], "range": ["#e8464b", "#4a43c6"]}}}},
 {"data": {"name": "cens"}, "transform": [{"filter": "datum.panel === 'p8'"}], "mark": {"type": "tick", "orient": "vertical", "size": 3, "thickness": 0.8}, "encoding": {"x": {"field": "day", "type": "quantitative", "title": "Days"}, "y": {"field": "surv", "type": "quantitative", "title": "% Surviving"}, "color": {"field": "group", "type": "nominal", "legend": null, "scale": {"domain": ["High", "Low"], "range": ["#e8464b", "#4a43c6"]}}}},
 {"data": {"values": [{}]}, "mark": {"type": "text", "text": "Log-rank test; p=0.0445", "align": "left", "baseline": "middle", "fontSize": 5.5, "color": "#222"}, "encoding": {"x": {"datum": 333, "title": "Days"}, "y": {"datum": 3.5, "title": "% Surviving"}}}
]},
{"width": 188, "height": 105, "layer": [
 {"data": {"values": [{}]}, "mark": {"type": "rect", "fill": "white", "clip": false}, "encoding": {"x": {"datum": -702, "title": "Days"}, "x2": {"datum": 6320}, "y": {"datum": 116.2, "title": "% Surviving"}, "y2": {"datum": -17.1}}},
 {"data": {"values": [{}]}, "mark": {"type": "text", "text": "hsa-miR-206", "fontSize": 8.5, "fontWeight": "bold", "align": "center", "baseline": "middle", "color": "#111"}, "encoding": {"x": {"datum": 3000, "title": "Days"}, "y": {"datum": 107, "title": "% Surviving"}}},
 {"data": {"values": [{}]}, "mark": {"type": "rule", "color": "#888", "strokeWidth": 1}, "encoding": {"x": {"datum": 0, "title": "Days"}, "x2": {"datum": 5900}, "y": {"datum": 48.5, "title": "% Surviving"}}},
 {"data": {"name": "km"}, "transform": [{"filter": "datum.panel === 'p9'"}], "mark": {"type": "line", "interpolate": "step-after", "strokeWidth": 1}, "encoding": {"x": {"field": "day", "type": "quantitative", "title": "Days", "scale": {"domain": [0, 6000], "nice": false}, "axis": {"values": [0, 1000, 2000, 3000, 4000, 5000, 6000], "format": "d", "labelOverlap": false}}, "y": {"field": "surv", "type": "quantitative", "title": "% Surviving", "scale": {"domain": [0, 100], "nice": false}, "axis": {"values": [0, 20, 40, 60, 80, 100], "labelOverlap": false}}, "color": {"field": "group", "type": "nominal", "title": "Expr.", "scale": {"domain": ["High", "Low"], "range": ["#e8464b", "#4a43c6"]}}}},
 {"data": {"name": "cens"}, "transform": [{"filter": "datum.panel === 'p9'"}], "mark": {"type": "tick", "orient": "vertical", "size": 3, "thickness": 0.8}, "encoding": {"x": {"field": "day", "type": "quantitative", "title": "Days"}, "y": {"field": "surv", "type": "quantitative", "title": "% Surviving"}, "color": {"field": "group", "type": "nominal", "legend": null, "scale": {"domain": ["High", "Low"], "range": ["#e8464b", "#4a43c6"]}}}},
 {"data": {"values": [{}]}, "mark": {"type": "text", "text": "Log-rank test; p=0.0386", "align": "left", "baseline": "middle", "fontSize": 5.5, "color": "#222"}, "encoding": {"x": {"datum": 297, "title": "Days"}, "y": {"datum": 5.4, "title": "% Surviving"}}}
]}
],
"config": {
 "font": "Lato",
 "view": {"stroke": null},
 "axis": {"zindex": 1, "grid": false, "labelFontSize": 5.5, "labelOverlap": false, "labelFlush": false, "titleFontSize": 7, "titleFontWeight": "normal", "tickSize": 2, "domainColor": "#444", "tickColor": "#444", "labelColor": "#222", "titleColor": "#333", "labelPadding": 1, "titlePadding": 2},
 "legend": {"orient": "top-right", "offset": 11, "padding": 3, "strokeColor": "#777", "fillColor": "white", "labelFontSize": 4.5, "titleFontSize": 4.5, "titleFontWeight": "normal", "titleOrient": "left", "symbolType": "stroke", "symbolSize": 60, "symbolStrokeWidth": 1, "rowPadding": 2, "titlePadding": 3, "labelOffset": 2}
}
}
